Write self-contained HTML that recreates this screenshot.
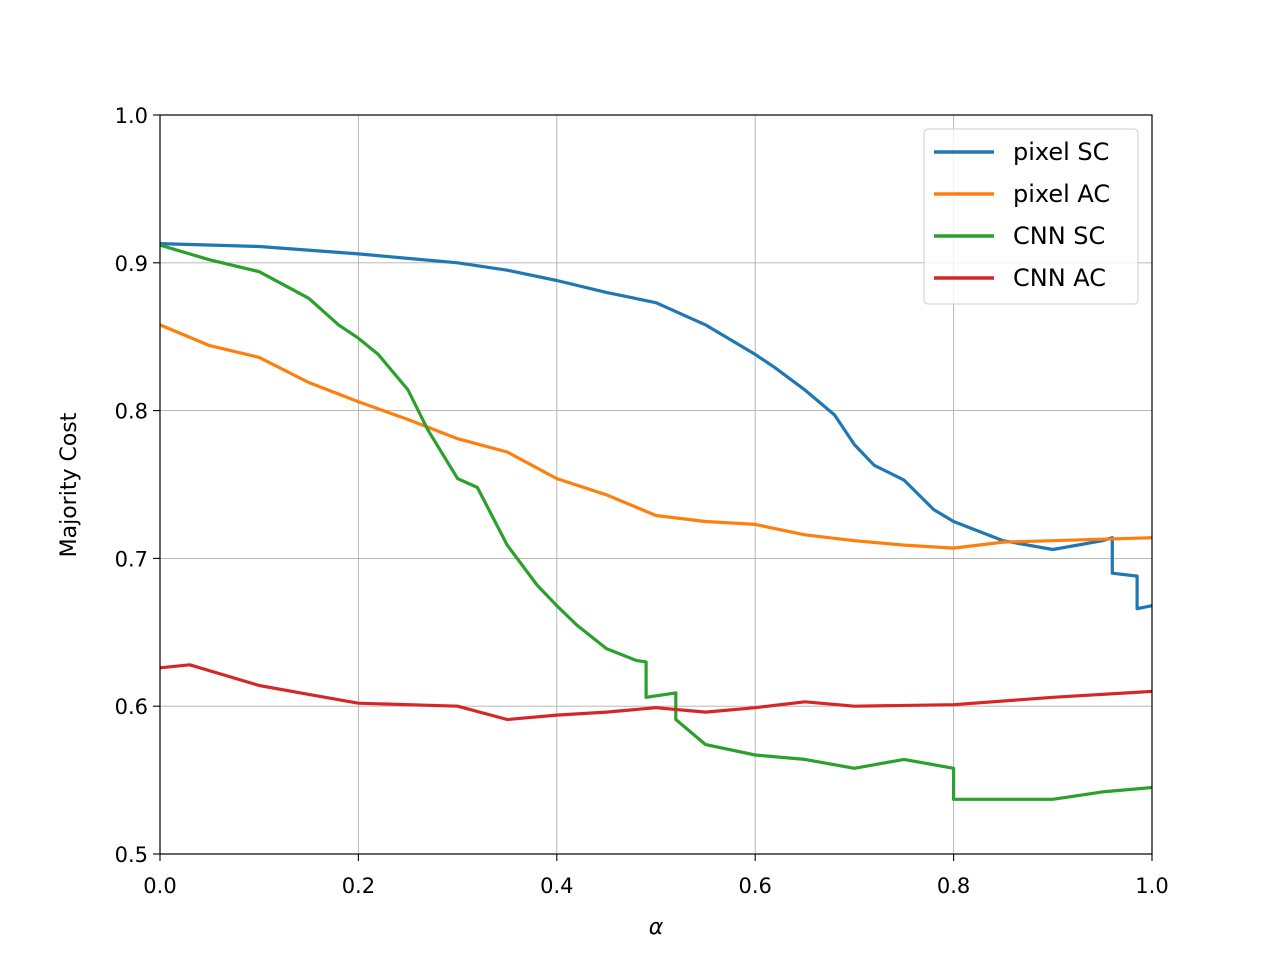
<!DOCTYPE html>
<html><head><meta charset="utf-8"><style>
body{margin:0;background:#fff;}
svg text{font-family:"DejaVu Sans","Liberation Sans",sans-serif;}
</style></head><body>
<svg id="chart" width="1280" height="960" xmlns="http://www.w3.org/2000/svg">
<rect width="1280" height="960" fill="#fff"/>
<g id="grid"></g>
<g id="series"></g>
<rect x="160" y="115" width="992" height="739" fill="none" stroke="#000" stroke-width="1.2"/>
<g id="ticks"></g>
<text x="656" y="934" font-size="22" font-style="italic" text-anchor="middle">α</text>
<text transform="translate(76,485) rotate(-90)" font-size="22" text-anchor="middle">Majority Cost</text>
<g id="legend"></g>
</svg>
<script>
const xTicks=[0,0.2,0.4,0.6,0.8,1.0];
const xTickLabels=["0.0","0.2","0.4","0.6","0.8","1.0"];
const yTicks=[0.5,0.6,0.7,0.8,0.9,1.0];
const yTickLabels=["0.5","0.6","0.7","0.8","0.9","1.0"];
const seriesNames=["pixel SC","pixel AC","CNN SC","CNN AC"];
const seriesColors=["#1f77b4","#ff7f0e","#2ca02c","#d62728"];
const pixelSCx=[0,0.1,0.2,0.25,0.3,0.35,0.4,0.45,0.5,0.55,0.6,0.62,0.65,0.68,0.7,0.72,0.75,0.78,0.8,0.85,0.9,0.95,0.96,0.96,0.985,0.985,1.0];
const pixelSCy=[0.913,0.911,0.906,0.903,0.900,0.895,0.888,0.880,0.873,0.858,0.838,0.829,0.814,0.797,0.777,0.763,0.753,0.733,0.725,0.712,0.706,0.712,0.714,0.690,0.688,0.666,0.668];
const pixelACx=[0,0.05,0.1,0.15,0.2,0.25,0.3,0.35,0.4,0.45,0.5,0.55,0.6,0.65,0.7,0.75,0.8,0.85,0.9,1.0];
const pixelACy=[0.858,0.844,0.836,0.819,0.806,0.794,0.781,0.772,0.754,0.743,0.729,0.725,0.723,0.716,0.712,0.709,0.707,0.711,0.712,0.714];
const cnnSCx=[0,0.05,0.1,0.15,0.18,0.2,0.22,0.25,0.27,0.3,0.32,0.35,0.38,0.4,0.42,0.45,0.48,0.49,0.49,0.52,0.52,0.55,0.6,0.65,0.7,0.75,0.8,0.8,0.85,0.9,0.95,1.0];
const cnnSCy=[0.912,0.902,0.894,0.876,0.858,0.849,0.838,0.814,0.787,0.754,0.748,0.709,0.682,0.668,0.655,0.639,0.631,0.630,0.606,0.609,0.591,0.574,0.567,0.564,0.558,0.564,0.558,0.537,0.537,0.537,0.542,0.545];
const cnnACx=[0,0.03,0.1,0.15,0.2,0.3,0.35,0.4,0.45,0.5,0.55,0.6,0.65,0.7,0.8,0.9,1.0];
const cnnACy=[0.626,0.628,0.614,0.608,0.602,0.600,0.591,0.594,0.596,0.599,0.596,0.599,0.603,0.600,0.601,0.606,0.610];
const X0=160,X1=1152,Y0=854,Y1=115;
const sx=v=>X0+(v-0)/(1-0)*(X1-X0);
const sy=v=>Y0-(v-0.5)/(1.0-0.5)*(Y0-Y1);
const NS="http://www.w3.org/2000/svg";
function mk(tag,attrs,parent){const e=document.createElementNS(NS,tag);for(const k in attrs)e.setAttribute(k,attrs[k]);parent.appendChild(e);return e;}
const grid=document.getElementById('grid'),ticks=document.getElementById('ticks');
xTicks.forEach((t,i)=>{
  const g=mk('line',{x1:sx(t),x2:sx(t),y1:Y1,y2:Y0,stroke:'#b0b0b0','stroke-width':0.9},grid);
  
  
  const tk=mk('line',{x1:sx(t),x2:sx(t),y1:Y0,y2:Y0+7,stroke:'#000','stroke-width':1.1},ticks);
  
  
  const tx=mk('text',{x:sx(t),y:Y0+39,'font-size':21,'text-anchor':'middle'},ticks);
  tx.textContent=xTickLabels[i];
  
  
});
yTicks.forEach((t,i)=>{
  const g=mk('line',{x1:X0,x2:X1,y1:sy(t),y2:sy(t),stroke:'#b0b0b0','stroke-width':0.9},grid);
  
  
  const tk=mk('line',{x1:X0-7,x2:X0,y1:sy(t),y2:sy(t),stroke:'#000','stroke-width':1.1},ticks);
  
  
  const tx=mk('text',{x:X0-12,y:sy(t)+8,'font-size':21,'text-anchor':'end'},ticks);
  tx.textContent=yTickLabels[i];
  
  
});
const sg=document.getElementById('series');
const allX=[pixelSCx,pixelACx,cnnSCx,cnnACx],allY=[pixelSCy,pixelACy,cnnSCy,cnnACy];
const lineNames=['pixel-sc-line','pixel-ac-line','cnn-sc-line','cnn-ac-line'];
allX.forEach((xs,i)=>{
  const pts=xs.map((x,j)=>sx(x).toFixed(1)+','+sy(allY[i][j]).toFixed(1)).join(' ');
  const p=mk('polyline',{points:pts,fill:'none',stroke:seriesColors[i],'stroke-width':3.2,'stroke-linejoin':'round'},sg);
  
  
});
const lg=document.getElementById('legend');
const box=mk('rect',{x:924,y:129,width:214,height:175,rx:4,fill:'#fff','fill-opacity':0.8,stroke:'#ccc','stroke-width':1},lg);


seriesNames.forEach((n,i)=>{
  const y=152+i*42;
  const l=mk('line',{x1:934,x2:994,y1:y,y2:y,stroke:seriesColors[i],'stroke-width':3.5},lg);
  
  
  const t=mk('text',{x:1013,y:y+8,'font-size':24},lg);
  t.textContent=n;
  
  
});
</script>
</body></html>
